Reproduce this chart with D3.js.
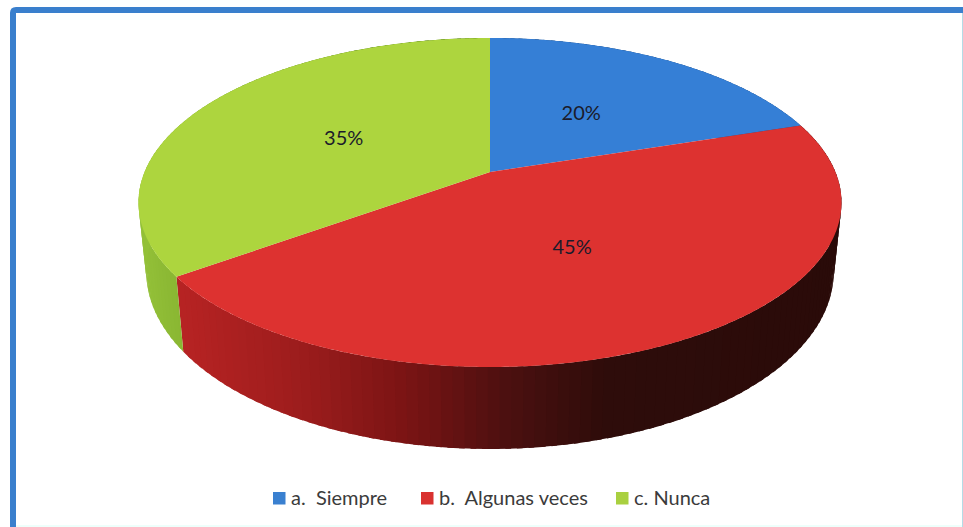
<!doctype html>
<html lang="es">
<head>
<meta charset="utf-8">
<title>Pie 3D</title>
<script src="https://d3js.org/d3.v7.min.js"></script>
<style>
  html, body { margin: 0; padding: 0; background: #fff; overflow: hidden; }
  text { font-family: Lato, "Open Sans", sans-serif; }
</style>
</head>
<body>
<script>
var categories = ["a.  Siempre", "b.  Algunas veces", "c. Nunca"];
var values = [20, 45, 35];
var percentLabels = ["20%", "45%", "35%"];

var width = 963, height = 527;
var topColors = ["#357fd6", "#dd3230", "#add53e"];
var legendColors = ["#3a80d0", "#d93230", "#a9d040"];

// perspective of the tilted disc: k = foreshortening, d = wall height
var cx = 490, cy = 172, k = -0.1854;
var scaleY = 126.96, scaleX = 345.4, wallD = 66.8, wallShrink = 0.978;

function project(angle, r) {
    var u = Math.sin(angle) * r, v = -Math.cos(angle) * r;
    var w = 1 + k * v;
    return [cx + scaleX * u / w, (cy + scaleY * v) / w];
}
function projectBottom(angle) {
    var p = project(angle, 1);
    var v = -Math.cos(angle);
    return [cx + (p[0] - cx) * wallShrink, p[1] + wallD / (1 + k * v)];
}

var redWall = d3.scaleLinear()
    .domain([176, 300, 400, 500, 600, 840])
    .range(["#b72323", "#9b1c1c", "#7a1414", "#4c1010", "#2e0c0a", "#2a0b09"]);
var greenWall = d3.scaleLinear()
    .domain([140, 185])
    .range(["#93c038", "#87b431"]);
var blueWall = function() { return "#1f4f8a"; };
var wallColor = [blueWall, redWall, greenWall];

var svg = d3.select("body").append("svg")
    .attr("width", width)
    .attr("height", height)
    .style("display", "block");

svg.append("rect").attr("width", width).attr("height", height).attr("fill", "#fff");

// bottom and right hairlines of the picture
svg.append("rect").attr("x", 16).attr("y", 525).attr("width", 947).attr("height", 2).attr("fill", "#eefffb");
svg.append("rect").attr("x", 962).attr("y", 13).attr("width", 1).attr("height", 514).attr("fill", "#b5dbe6");

// blue frame
svg.append("path")
    .attr("d", "M13,530 L13,13 Q13,10 16,10 L963,10")
    .attr("fill", "none")
    .attr("stroke", "#3a7fcd")
    .attr("stroke-width", 6);

var pie = d3.pie().sort(null).value(function(d) { return d; });
var arcs = pie(values);
var line = d3.line().curve(d3.curveLinearClosed);

// side wall, painted in narrow strips for the banded shading
// each strip reaches back under the previous one so no seams show
var walls = svg.append("g");
arcs.forEach(function(a) {
    var stops = d3.range(a.startAngle, a.endAngle, 0.028).concat([a.endAngle]);
    d3.pairs(stops).forEach(function(s) {
        var from = Math.max(a.startAngle, s[0] - 0.014);
        var t0 = project(from, 1), t1 = project(s[1], 1);
        var b0 = projectBottom(from), b1 = projectBottom(s[1]);
        var col = wallColor[a.index]((project(s[0], 1)[0] + t1[0]) / 2);
        walls.append("path")
            .attr("d", line([t0, t1, b1, b0]))
            .attr("fill", col);
    });
});

// top face
svg.append("g").selectAll("path")
    .data(arcs)
    .enter()
    .append("path")
    .attr("d", function(a) {
        var pts = d3.range(a.startAngle, a.endAngle, 0.01).concat([a.endAngle])
            .map(function(t) { return project(t, 1); });
        pts.push(project(0, 0));
        return line(pts);
    })
    .attr("fill", function(a) { return topColors[a.index]; });

// percent labels
svg.append("g").selectAll("text")
    .data(arcs)
    .enter()
    .append("text")
    .attr("x", function(a) { return project((a.startAngle + a.endAngle) / 2, 0.49)[0] - 1.5; })
    .attr("y", function(a) { return project((a.startAngle + a.endAngle) / 2, 0.49)[1] + 7; })
    .attr("text-anchor", "middle")
    .attr("font-size", 20)
    .attr("fill", "#1b1b2b")
    .text(function(a) { return percentLabels[a.index]; });

// legend
var legendX = d3.scaleOrdinal().domain(categories).range([273, 421, 616]);
var legend = svg.append("g").selectAll("g")
    .data(categories)
    .enter()
    .append("g")
    .attr("transform", function(d) { return "translate(" + legendX(d) + ",492)"; });
legend.append("rect")
    .attr("width", 12.5)
    .attr("height", 12.5)
    .attr("fill", function(d, i) { return legendColors[i]; });
legend.append("text")
    .attr("x", 18)
    .attr("y", 13)
    .attr("font-size", 20)
    .attr("fill", "#3b3b3b")
    .attr("xml:space", "preserve")
    .style("white-space", "pre")
    .text(function(d) { return d; });
</script>
</body>
</html>
